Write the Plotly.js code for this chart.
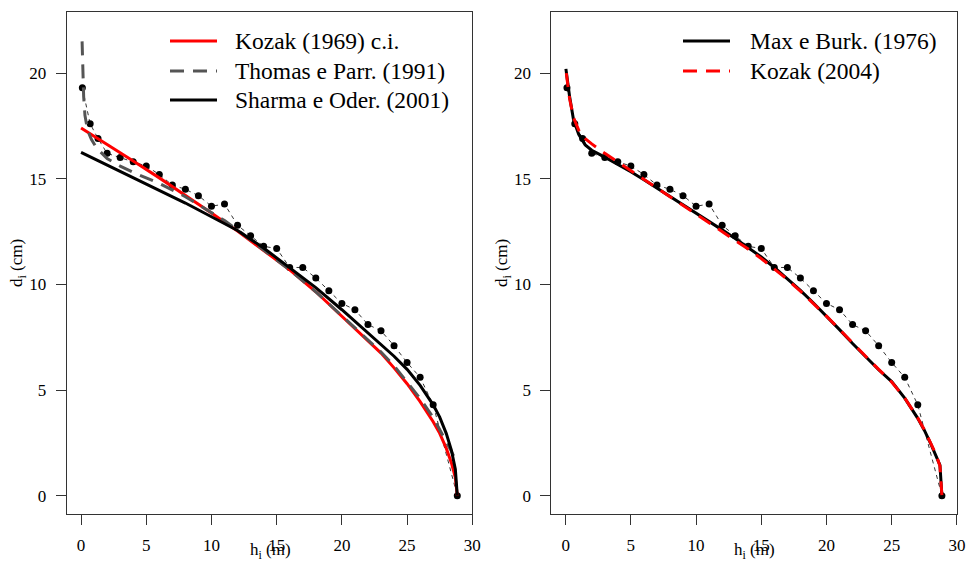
<!DOCTYPE html>
<html>
<head>
<meta charset="utf-8">
<script src="https://cdn.plot.ly/plotly-3.0.1.min.js"></script>
<style>html,body{margin:0;padding:0;background:#fff;}#chart{width:968px;height:565px;}</style>
</head>
<body>
<div id="chart"></div>
<script>
// ---- data ----
const obsH = [0.1, 0.7, 1.3, 2, 3, 4, 5, 6, 7, 8, 9, 10, 11, 12, 13, 14, 15, 16, 17, 18, 19, 20, 21, 22, 23, 24, 25, 26, 27, 28.85];
const obsD = [19.3, 17.6, 16.9, 16.2, 16.0, 15.8, 15.6, 15.2, 14.7, 14.5, 14.2, 13.7, 13.8, 12.8, 12.3, 11.8, 11.7, 10.8, 10.8, 10.3, 9.7, 9.1, 8.8, 8.1, 7.8, 7.1, 6.3, 5.6, 4.3, 0];

const kozak69H = [0, 2, 4, 6, 8, 10, 12, 14, 16, 18, 20, 22, 23, 24, 25, 26, 27, 27.5, 28, 28.4, 28.7, 28.85];
const kozak69D = [17.4, 16.63, 15.84, 15.04, 14.22, 13.38, 12.52, 11.62, 10.69, 9.65, 8.5, 7.35, 6.75, 6.05, 5.3, 4.45, 3.5, 2.95, 2.25, 1.55, 0.85, 0];

const thomasH = [0.08, 0.12, 0.2, 0.3, 0.5, 0.8, 1.2, 2, 3, 4, 5, 6, 8, 10, 11, 12, 14, 16, 18, 20, 22, 23, 24, 25, 26, 27, 27.5, 28, 28.4, 28.85];
const thomasD = [21.5, 20.4, 18.9, 18.0, 17.3, 16.85, 16.45, 15.95, 15.6, 15.3, 15.05, 14.78, 14.15, 13.42, 13.02, 12.58, 11.65, 10.68, 9.65, 8.52, 7.38, 6.8, 6.15, 5.4, 4.6, 3.7, 3.15, 2.55, 2.1, 1.5];

const sharmaH = [0, 2, 4, 6, 8, 10, 12, 14, 16, 18, 20, 22, 23, 24, 25, 26, 27, 27.5, 28, 28.4, 28.7, 28.85];
const sharmaD = [16.25, 15.65, 15.05, 14.45, 13.85, 13.2, 12.55, 11.72, 10.8, 9.85, 8.8, 7.72, 7.15, 6.6, 5.98, 5.22, 4.3, 3.72, 2.95, 2.15, 1.25, 0];

const maxBurkH = [0.02, 0.3, 0.6, 1.0, 1.5, 2, 3, 4, 5, 6, 7, 8, 9, 10, 11, 12, 13, 14, 15, 16, 17, 18, 19, 20, 21, 22, 23, 24, 25, 26, 27, 27.5, 28, 28.4, 28.7, 28.85];
const maxBurkD = [20.2, 18.9, 17.8, 17.1, 16.6, 16.35, 16.02, 15.68, 15.33, 14.95, 14.56, 14.16, 13.76, 13.36, 12.98, 12.58, 12.17, 11.74, 11.3, 10.8, 10.28, 9.72, 9.12, 8.5, 7.86, 7.2, 6.58, 5.96, 5.4, 4.62, 3.66, 3.1, 2.45, 1.9, 1.45, 0];

const kozak04H = [0.05, 0.3, 0.6, 1.0, 1.5, 2, 3, 4, 5, 6, 7, 8, 9, 10, 11, 12, 13, 14, 15, 16, 17, 18, 19, 20, 21, 22, 23, 24, 25, 26, 27, 27.5, 28, 28.4, 28.7, 28.85];
const kozak04D = [20.0, 18.8, 17.9, 17.3, 16.9, 16.65, 16.2, 15.78, 15.38, 14.97, 14.56, 14.15, 13.74, 13.33, 12.93, 12.52, 12.1, 11.67, 11.22, 10.74, 10.23, 9.68, 9.1, 8.5, 7.87, 7.22, 6.6, 5.98, 5.38, 4.62, 3.68, 3.12, 2.5, 1.95, 1.4, 0];

const xTicks = [0, 5, 10, 15, 20, 25, 30];
const yTicks = [0, 5, 10, 15, 20];
const leftLegend = ["Kozak (1969) c.i.", "Thomas e Parr. (1991)", "Sharma e Oder. (2001)"];
const rightLegend = ["Max e Burk. (1976)", "Kozak (2004)"];
const xTitle = "h<sub>i</sub> (m)";
const yTitle = "d<sub>i</sub> (cm)";

// ---- styles ----
const FONT = "Liberation Serif, Times New Roman, serif";
const RED = "#ff0000", GRAY = "#555555", BLACK = "#000000";
const DASH = "14px,9px";

function obsTraces(xa, ya) {
  return {
    x: obsH, y: obsD, xaxis: xa, yaxis: ya, type: "scatter", mode: "lines+markers",
    line: {color: BLACK, width: 0.8, dash: "4px,4px"},
    marker: {color: BLACK, size: 7}, showlegend: false, hoverinfo: "skip"
  };
}
function curve(x, y, xa, ya, color, dash) {
  return {x: x, y: y, xaxis: xa, yaxis: ya, type: "scatter", mode: "lines",
    line: {color: color, width: 3, dash: dash || "solid"}, showlegend: false};
}

const traces = [
  obsTraces("x", "y"),
  curve(kozak69H, kozak69D, "x", "y", RED),
  curve(thomasH, thomasD, "x", "y", GRAY, DASH),
  curve(sharmaH, sharmaD, "x", "y", BLACK),
  obsTraces("x2", "y2"),
  curve(maxBurkH, maxBurkD, "x2", "y2", BLACK),
  curve(kozak04H, kozak04D, "x2", "y2", RED, DASH)
];

// layout geometry (pixels -> paper)
const W = 968, H = 565, MT = 12, MB = 51;
const PH = H - MT - MB;
const px = v => v / W;
const py = v => (H - MB - v) / PH;

const axisCommon = {
  showgrid: false, zeroline: false, showline: true, linecolor: "#333", linewidth: 1,
  mirror: true, ticks: "outside", ticklen: 10, tickcolor: "#333", tickwidth: 1,
  tickfont: {family: FONT, size: 17, color: "#000"}, tickmode: "array", fixedrange: true
};
const xRange = [-1.1, 30.0];
const yRange = [-0.866, 22.89];

const layout = {
  width: W, height: H, margin: {l: 0, r: 0, t: MT, b: MB},
  paper_bgcolor: "#fff", plot_bgcolor: "#fff", showlegend: false,
  font: {family: FONT, color: "#000"},
  xaxis: Object.assign({}, axisCommon, {domain: [px(66.7), px(472.3)], range: xRange, tickvals: xTicks, anchor: "y", ticklabelstandoff: 6}),
  yaxis: Object.assign({}, axisCommon, {domain: [0, 1], range: yRange, tickvals: yTicks, anchor: "x", ticklabelstandoff: 6}),
  xaxis2: Object.assign({}, axisCommon, {domain: [px(551.3), px(956.9)], range: xRange, tickvals: xTicks, anchor: "y2", ticklabelstandoff: 6}),
  yaxis2: Object.assign({}, axisCommon, {domain: [0, 1], range: yRange, tickvals: yTicks, anchor: "x2", ticklabelstandoff: 6}),
  shapes: [], annotations: []
};

// axis titles
[[270, 18], [754, 503]].forEach(([cx, yx]) => {
  layout.annotations.push({xref: "paper", yref: "paper", x: px(cx), y: py(551), text: xTitle, showarrow: false,
    xanchor: "center", yanchor: "middle", font: {family: FONT, size: 17}});
  layout.annotations.push({xref: "paper", yref: "paper", x: px(yx), y: py(263), text: yTitle, showarrow: false,
    textangle: -90, xanchor: "center", yanchor: "middle", font: {family: FONT, size: 17}});
});

// legends
function addLegend(labels, styles, x0, x1, xt, rows) {
  labels.forEach((lab, i) => {
    const s = styles[i];
    layout.shapes.push({type: "line", xref: "paper", yref: "paper", x0: px(x0), x1: px(x1), y0: py(rows[i]), y1: py(rows[i]),
      line: {color: s.color, width: 3, dash: s.dash || "solid"}});
    layout.annotations.push({xref: "paper", yref: "paper", x: px(xt), y: py(rows[i]), text: lab, showarrow: false,
      xanchor: "left", yanchor: "middle", font: {family: FONT, size: 23.5, color: "#000"}});
  });
}
addLegend(leftLegend, [{color: RED}, {color: GRAY, dash: DASH}, {color: BLACK}], 170, 217, 233, [41, 71, 100]);
addLegend(rightLegend, [{color: BLACK}, {color: RED, dash: DASH}], 683, 730, 748, [41, 71]);

Plotly.newPlot("chart", traces, layout, {staticPlot: true, displayModeBar: false});
</script>
</body>
</html>
